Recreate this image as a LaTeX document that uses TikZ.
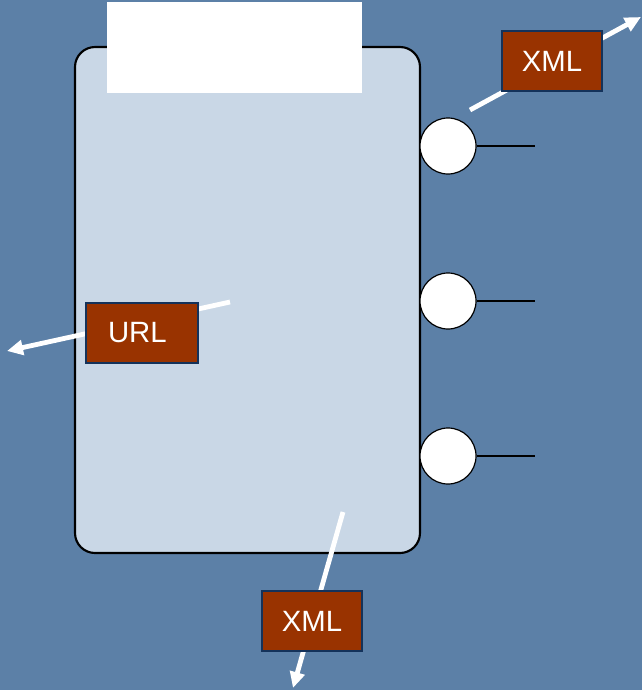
\documentclass[tikz,border=0pt]{standalone}
\usepackage{fontspec}
\setmainfont{Liberation Sans}
\usetikzlibrary{arrows.meta}
\definecolor{bgblue}{RGB}{92,128,167}
\definecolor{panel}{RGB}{201,215,230}
\definecolor{rust}{RGB}{153,51,0}
\definecolor{tagedge}{RGB}{20,50,90}
\tikzset{
  tag/.style={draw=tagedge, line width=1.5pt, fill=rust, text=white,
    minimum width=75pt, minimum height=45pt, inner sep=0pt,
    font=\fontsize{22}{26}\selectfont},
  flow/.style={draw=white, line width=3.6pt,
    -{Triangle[length=12pt, width=11pt]}},
  port/.style={circle, draw=black, line width=0.9pt, fill=white,
    minimum size=42pt, inner sep=0pt},
  stub/.style={draw=black, line width=0.8pt}
}
\begin{document}
\begin{tikzpicture}[x=0.75pt, y=-0.75pt]
  % canvas
  \fill[bgblue] (0,0) rectangle (642,690);
  \useasboundingbox (0,0) rectangle (642,690);

  % component body
  \node[draw=black, line width=1.6pt, fill=panel, rounded corners=15pt,
        minimum width=258.75pt, minimum height=379.5pt, inner sep=0pt]
        (body) at (247.5,300) {};
  % title area
  \node[fill=white, minimum width=191.25pt, minimum height=68.25pt, inner sep=0pt]
        (title) at (234.5,47.5) {};

  % ports with stubs
  \foreach \i/\y in {1/146, 2/301, 3/456} {
    \node[port] (p\i) at (448,\y) {};
    \coordinate (s\i) at (535,\y);
    \draw[stub] (p\i.east) -- (s\i);
  }

  % message flows
  \coordinate (a1) at (470,110);
  \coordinate (b1) at (641,17);
  \coordinate (a2) at (230,302);
  \coordinate (b2) at (7,351);
  \coordinate (a3) at (343,512);
  \coordinate (b3) at (293,688);
  \draw[flow] (a1) -- (b1);
  \draw[flow] (a2) -- (b2);
  \draw[flow] (a3) -- (b3);

  % labels on the flows
  \node[tag] (xmlout) at (552,61) {XML};
  \node[tag, minimum width=84pt, text width=51pt, align=left] (url) at (142,332.5) {URL};
  \node[tag] (xmlbot) at (312,621) {XML};
\end{tikzpicture}
\end{document}
